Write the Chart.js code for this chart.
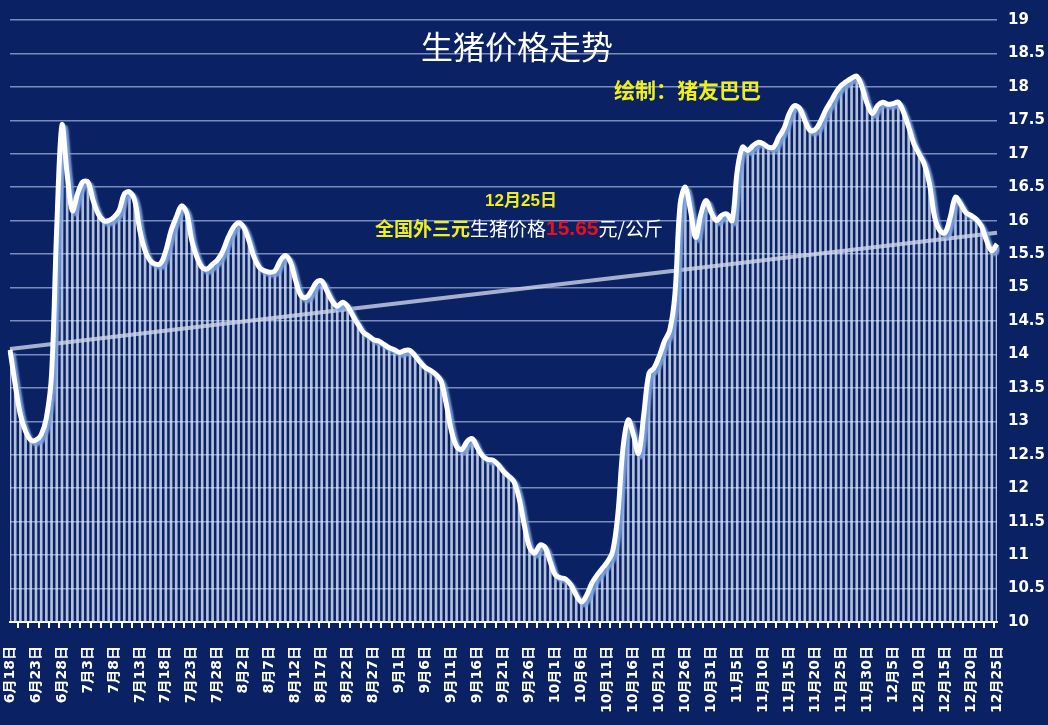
<!DOCTYPE html>
<html>
<head>
<meta charset="utf-8">
<script src="https://cdn.jsdelivr.net/npm/chart.js@4"></script>
<style>
  html, body { margin: 0; padding: 0; background: #0a2263; }
  #wrap { width: 1048px; height: 725px; position: relative; }
</style>
</head>
<body>
<div id="wrap"><canvas id="chart"></canvas></div>
<script>
// daily price, 元/公斤
const junePrices = [14.07, 13.55, 13.1, 12.85, 12.72, 12.72, 12.8, 13.05, 13.7, 15.9, 17.43, 16.7, 16.15];
const julyPrices = [16.4, 16.58, 16.58, 16.3, 16.1, 16.0, 16.0, 16.05, 16.15, 16.4, 16.43, 16.3, 15.85, 15.55, 15.4, 15.35,
  15.36, 15.55, 15.85, 16.05, 16.22, 16.12, 15.7, 15.45, 15.3, 15.28, 15.35, 15.42, 15.55, 15.75, 15.9];
const augPrices = [15.97, 15.9, 15.7, 15.45, 15.3, 15.25, 15.23, 15.25, 15.4, 15.48, 15.38, 15.1, 14.88, 14.85, 14.95, 15.08,
  15.1, 14.95, 14.8, 14.72, 14.78, 14.72, 14.58, 14.45, 14.33, 14.28, 14.22, 14.2, 14.15, 14.1, 14.07];
const sepPrices = [14.03, 14.06, 14.06, 13.98, 13.88, 13.8, 13.76, 13.7, 13.6, 13.25, 12.85, 12.62, 12.58, 12.7, 12.74,
  12.6, 12.48, 12.43, 12.42, 12.35, 12.25, 12.18, 12.1, 11.85, 11.45, 11.12, 11.03, 11.15, 11.12, 10.9];
const octPrices = [10.7, 10.66, 10.64, 10.55, 10.4, 10.3, 10.4, 10.58, 10.7, 10.8, 10.9, 11.05, 11.6, 12.6, 13.02, 12.8,
  12.52, 13.1, 13.72, 13.8, 13.98, 14.2, 14.36, 14.9, 16.25, 16.5, 16.15, 15.75, 16.1, 16.3, 16.12];
const novPrices = [16.0, 16.08, 16.1, 16.0, 16.75, 17.1, 17.05, 17.12, 17.17, 17.15, 17.1, 17.1, 17.25, 17.38, 17.6,
  17.72, 17.68, 17.5, 17.35, 17.36, 17.48, 17.65, 17.78, 17.92, 18.02, 18.08, 18.13, 18.16, 18.0, 17.75];
const decPrices = [17.6, 17.72, 17.77, 17.74, 17.75, 17.77, 17.62, 17.4, 17.15, 17.0, 16.85, 16.55, 16.05, 15.85, 15.82,
  16.05, 16.35, 16.25, 16.12, 16.08, 16.02, 15.92, 15.7, 15.55, 15.65];

// months and day ranges for the category labels
const months = [6, 7, 8, 9, 10, 11, 12];
const firstDays = [18, 1, 1, 1, 1, 1, 1];
const lastDays = [30, 31, 31, 30, 31, 30, 25];

// linear trend line, start and end value
const trendEnds = [14.08, 15.82];

const titleText = '生猪价格走势';
const creditText = '绘制：猪友巴巴';
const noteDate = '12月25日';
const latestPrice = '15.65';

const prices = [].concat(junePrices, julyPrices, augPrices, sepPrices, octPrices, novPrices, decPrices);
const labels = [];
for (let m = 0; m < months.length; m++) {
  for (let d = firstDays[m]; d <= lastDays[m]; d++) {
    labels.push(`${months[m]}月${d}日`);
  }
}

const CJK = '"Noto Sans CJK SC", sans-serif';
const NUM = '"DejaVu Sans", "Noto Sans CJK SC", sans-serif';

// navy background
const bgPlugin = {
  id: 'bg',
  beforeDraw(chart) {
    const ctx = chart.ctx;
    ctx.save();
    ctx.fillStyle = '#0a2263';
    ctx.fillRect(0, 0, chart.width, chart.height);
    ctx.restore();
  }
};

// blue shadow under the white price line
const shadowPlugin = {
  id: 'lineShadow',
  beforeDatasetDraw(chart, args) {
    if (args.index !== 0) return;
    const ctx = chart.ctx;
    ctx.save();
    ctx.shadowColor = 'rgba(120,160,225,0.95)';
    ctx.shadowOffsetX = 3;
    ctx.shadowOffsetY = 3;
    ctx.shadowBlur = 2;
  },
  afterDatasetDraw(chart, args) {
    if (args.index !== 0) return;
    chart.ctx.restore();
  }
};

// title and notes
const textPlugin = {
  id: 'texts',
  afterDraw(chart) {
    const ctx = chart.ctx;
    ctx.save();
    ctx.textBaseline = 'middle';

    ctx.fillStyle = '#ffffff';
    ctx.textAlign = 'center';
    ctx.font = `32px ${CJK}`;
    ctx.fillText(titleText, 517, 47);

    ctx.textAlign = 'left';
    ctx.fillStyle = '#f0f018';
    ctx.font = `bold 21px ${CJK}`;
    ctx.fillText(creditText, 614, 90);

    ctx.textAlign = 'center';
    ctx.font = `bold 17px "Liberation Sans", ${CJK}`;
    ctx.fillText(noteDate, 521, 201);

    const parts = [
      ['全国外三元', '#f0f018', `bold 19px ${CJK}`],
      ['生猪价格', '#ffffff', `19px ${CJK}`],
      [latestPrice, '#e8101c', 'bold 21px "Liberation Sans", sans-serif'],
      ['元/公斤', '#ffffff', `19px ${CJK}`]
    ];
    ctx.textAlign = 'left';
    let x = 375;
    for (const [txt, color, font] of parts) {
      ctx.font = font;
      ctx.fillStyle = color;
      ctx.fillText(txt, x, 229);
      x += ctx.measureText(txt).width;
    }
    ctx.restore();
  }
};

const ctx = document.getElementById('chart');
new Chart(ctx, {
  type: 'bar',
  data: {
    labels: labels,
    datasets: [
      {
        type: 'line',
        data: prices,
        borderColor: '#ffffff',
        borderWidth: 5,
        pointRadius: 0,
        tension: 0.35,
        order: 0
      },
      {
        type: 'line',
        data: [{ x: labels[0], y: trendEnds[0] }, { x: labels[labels.length - 1], y: trendEnds[1] }],
        borderColor: 'rgba(205,212,232,0.8)',
        borderWidth: 4,
        pointRadius: 0,
        order: 1
      },
      {
        type: 'bar',
        data: prices,
        backgroundColor: 'rgba(220,232,252,0.8)',
        barThickness: 2,
        order: 2
      }
    ]
  },
  options: {
    responsive: true,
    maintainAspectRatio: false,
    animation: false,
    layout: { padding: { top: 18, left: 10, right: 0, bottom: 0 } },
    plugins: {
      legend: { display: false },
      tooltip: { enabled: false }
    },
    scales: {
      x: {
        offset: false,
        grid: {
          drawOnChartArea: false,
          tickLength: 6,
          lineWidth: 2,
          color: (c) => (c.index % 2 === 0 ? '#ffffff' : 'rgba(0,0,0,0)')
        },
        border: { display: true, color: '#ffffff', width: 2 },
        ticks: {
          autoSkip: false,
          maxRotation: 90,
          minRotation: 90,
          padding: 18,
          color: '#ffffff',
          font: { family: NUM, size: 14, weight: 'bold' },
          callback: (v, i) => (i % 5 === 0 ? labels[i] : '')
        },
        afterFit: (s) => {
          s.height = 103;
          s.paddingLeft = 0;
          s.paddingRight = 0;
        }
      },
      y: {
        position: 'right',
        min: 10,
        max: 19,
        ticks: {
          stepSize: 0.5,
          padding: 11,
          color: '#ffffff',
          font: { family: NUM, size: 15, weight: 'bold' },
          callback: (v) => String(v)
        },
        grid: { color: 'rgba(150,166,212,0.8)', lineWidth: 1.5, drawTicks: false },
        border: { display: false },
        afterFit: (s) => { s.width = 51; }
      }
    }
  },
  plugins: [bgPlugin, shadowPlugin, textPlugin]
});
</script>
</body>
</html>
